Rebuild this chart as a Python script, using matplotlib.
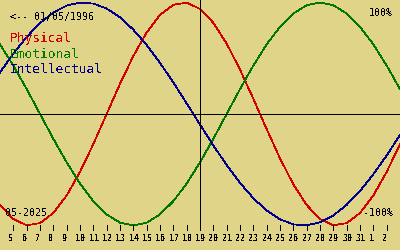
import matplotlib
matplotlib.use('Agg')
import matplotlib.pyplot as plt

plt.rcParams['text.antialiased'] = False

W, H = 400, 250
BG = '#e0d488'
RED = '#d40000'
GREEN = '#007800'
BLUE = '#00008c'
MONO = 'DejaVu Sans Mono'
LW = 0.55

# days relative to the marked day (19-05-2025), values in percent
day_offset = list(range(-15, 16))
physical = [-81.7, -94.2, -99.8, -97.9, -88.8, -73.1, -52.0, -27.0, 0.0, 27.0,
            52.0, 73.1, 88.8, 97.9, 99.8, 94.2, 81.7, 63.1, 39.8, 13.6,
            -13.6, -39.8, -63.1, -81.7, -94.2, -99.8, -97.9, -88.8, -73.1, -52.0,
            -27.0]
emotional = [62.4, 43.4, 22.3, 0.0, -22.3, -43.4, -62.4, -78.2, -90.1, -97.5,
             -100.0, -97.5, -90.1, -78.2, -62.4, -43.4, -22.3, 0.0, 22.3, 43.4,
             62.4, 78.2, 90.1, 97.5, 100.0, 97.5, 90.1, 78.2, 62.4, 43.4,
             22.3]
intellectual = [37.2, 54.1, 69.0, 81.5, 91.0, 97.2, 99.9, 99.0, 94.5, 86.6,
                75.6, 61.8, 45.8, 28.2, 9.5, -9.5, -28.2, -45.8, -61.8, -75.6,
                -86.6, -94.5, -99.0, -99.9, -97.2, -91.0, -81.5, -69.0, -54.1, -37.2,
                -18.9]

tick_days = list(range(-14, 15))
tick_labels = ['5', '6', '7', '8', '9', '10', '11', '12', '13', '14', '15', '16',
               '17', '18', '19', '20', '21', '22', '23', '24', '25', '26', '27',
               '28', '29', '30', '31', '1', '2']


def fx(px):
    return px / W


def fy(py):
    return 1 - py / H


fig = plt.figure(figsize=(4, 2.5), dpi=100)
fig.patch.set_facecolor(BG)
ax = fig.add_axes([0, 0, 1, 1])
ax.set_facecolor(BG)
ax.set_xlim(-15, 15)
ax.set_ylim(-122.0, 102.2)
ax.axis('off')

for vals, col in [(physical, RED), (emotional, GREEN), (intellectual, BLUE)]:
    ax.plot(day_offset, vals, color=col, lw=LW, antialiased=False, zorder=2)

# axes cross and day ticks
xt = ax.get_xaxis_transform()
ax.axhline(0, color='black', lw=LW, antialiased=False, zorder=3)
ax.vlines(0, fy(230), 1, transform=xt, colors='black', lw=LW,
          antialiased=False, zorder=3)
ax.vlines(tick_days, fy(230), fy(225), transform=xt, colors='black', lw=LW,
          antialiased=False, zorder=3)
for d, lab in zip(tick_days, tick_labels):
    ax.text(d - 0.34, fy(240.7), lab, transform=xt, ha='left', va='baseline',
            fontsize=6, fontweight='bold', family=MONO)

# labels
fig.text(fx(10), fy(20), '<-- 01/05/1996', fontsize=7.2, family=MONO,
         va='baseline', color='black')
fig.text(fx(10), fy(42), 'Physical', fontsize=9.3, family=MONO,
         va='baseline', color=RED)
fig.text(fx(10), fy(57.5), 'Emotional', fontsize=9.3, family=MONO,
         va='baseline', color=GREEN)
fig.text(fx(10), fy(73), 'Intellectual', fontsize=9.3, family=MONO,
         va='baseline', color=BLUE)
fig.text(fx(393), fy(16), '100%', fontsize=7.2, family=MONO,
         va='baseline', ha='right')
fig.text(fx(393), fy(216), '-100%', fontsize=7.2, family=MONO,
         va='baseline', ha='right')
fig.text(fx(5), fy(216), '05-2025', fontsize=7.2, family=MONO,
         va='baseline')

fig.savefig('out.png', dpi=100, facecolor=BG)
